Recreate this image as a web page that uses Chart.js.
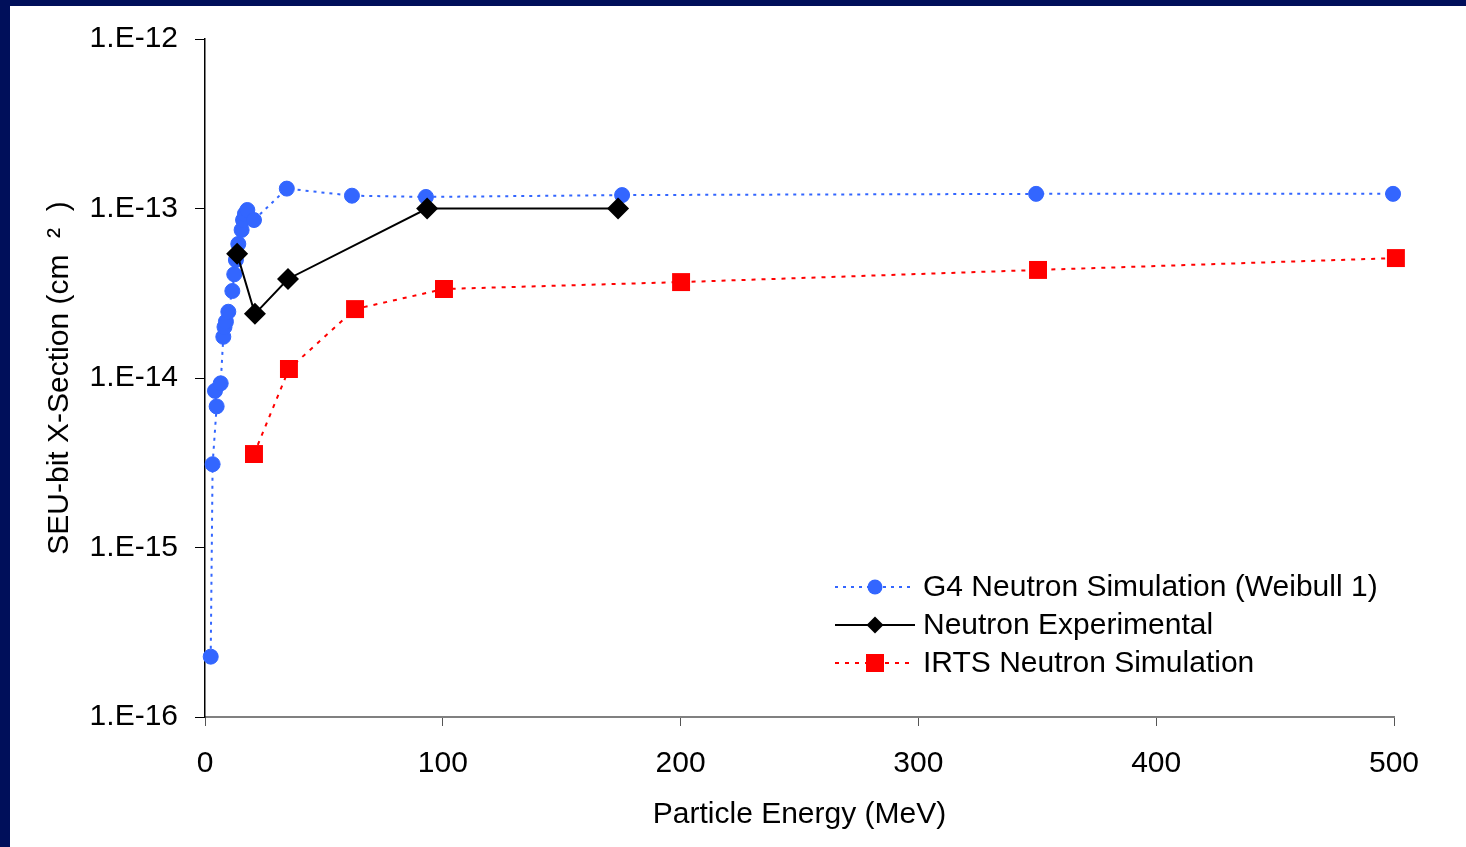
<!DOCTYPE html>
<html lang="en">
<head>
<meta charset="UTF-8">
<title>SEU-bit X-Section vs Particle Energy</title>
<script src="https://cdn.jsdelivr.net/npm/chart.js"></script>
<style>
    html, body { margin: 0; padding: 0; background: #fff; }
    #wrap { position: absolute; left: 0; top: 0; width: 1466px; height: 847px; }
</style>
</head>
<body>
<div id="wrap"><canvas id="seuChart"></canvas></div>
<script>
// G4 Neutron Simulation (Weibull 1)
const g4Energy = [2.4, 3.2, 4.9, 4.2, 6.6, 7.7, 8.2, 8.8, 9.8, 11.5, 12.3, 13.0, 14.0, 15.4, 16.0, 16.8, 17.8, 20.6, 34.4, 61.8, 92.9, 175.4, 349.5, 499.6];
const g4Xsec = [2.27e-16, 3.1e-15, 6.8e-15, 8.4e-15, 9.3e-15, 1.75e-14, 2.0e-14, 2.15e-14, 2.46e-14, 3.26e-14, 4.09e-14, 4.97e-14, 6.18e-14, 7.47e-14, 8.55e-14, 9.3e-14, 9.8e-14, 8.55e-14, 1.31e-13, 1.19e-13, 1.17e-13, 1.2e-13, 1.22e-13, 1.22e-13];

// Neutron Experimental
const expEnergy = [13.5, 21.0, 34.9, 93.4, 173.7];
const expXsec = [5.4e-14, 2.39e-14, 3.84e-14, 1.0e-13, 1.0e-13];

// IRTS Neutron Simulation
const irtsEnergy = [20.6, 35.3, 63.1, 100.5, 200.2, 350.3, 500.8];
const irtsXsec = [3.56e-15, 1.13e-14, 2.55e-14, 3.35e-14, 3.68e-14, 4.34e-14, 5.1e-14];

const yTicks = [1e-16, 1e-15, 1e-14, 1e-13, 1e-12];
const seriesNames = ['G4 Neutron Simulation (Weibull 1)', 'Neutron Experimental', 'IRTS Neutron Simulation'];

const FONT = '"Liberation Sans", Arial, sans-serif';

function toPoints(xs, ys) {
    return xs.map((x, i) => ({ x: x, y: ys[i] }));
}

// navy frame on the top and left edges
const framePlugin = {
    id: 'frame',
    beforeDraw(chart) {
        const ctx = chart.ctx;
        ctx.save();
        ctx.fillStyle = '#fff';
        ctx.fillRect(0, 0, chart.width, chart.height);
        ctx.fillStyle = '#000f5a';
        ctx.fillRect(0, 0, chart.width, 6);
        ctx.fillRect(0, 0, 10, chart.height);
        ctx.restore();
    }
};

// legend drawn inside the plot, lower right
const legendPlugin = {
    id: 'insideLegend',
    afterDraw(chart) {
        const ctx = chart.ctx;
        const rows = [587, 625, 663];
        ctx.save();
        chart.data.datasets.forEach((ds, i) => {
            const y = rows[i];
            ctx.strokeStyle = ds.borderColor;
            ctx.lineWidth = ds.borderWidth;
            ctx.setLineDash(ds.borderDash || []);
            ctx.beginPath();
            ctx.moveTo(835, y);
            ctx.lineTo(915, y);
            ctx.stroke();
            ctx.setLineDash([]);
            ctx.fillStyle = ds.pointBackgroundColor;
            ctx.beginPath();
            if (ds.pointStyle === 'circle') {
                ctx.arc(875, y, 7.5, 0, Math.PI * 2);
            } else if (ds.pointStyle === 'rectRot') {
                ctx.moveTo(875, y - 8.5); ctx.lineTo(883.5, y); ctx.lineTo(875, y + 8.5); ctx.lineTo(866.5, y);
                ctx.closePath();
            } else {
                ctx.rect(866, y - 9, 18, 18);
            }
            ctx.fill();
            ctx.fillStyle = '#000';
            ctx.font = '30px ' + FONT;
            ctx.textAlign = 'left';
            ctx.textBaseline = 'middle';
            ctx.fillText(seriesNames[i], 923, y + 1);
        });
        ctx.restore();
    }
};

const ctx = document.getElementById('seuChart').getContext('2d');
const chart = new Chart(ctx, {
    type: 'scatter',
    data: {
        datasets: [{
            label: seriesNames[0],
            data: toPoints(g4Energy, g4Xsec),
            showLine: true,
            clip: false,
            borderColor: '#3366ff',
            borderWidth: 2,
            borderDash: [3, 5],
            pointStyle: 'circle',
            pointRadius: 7.5,
            pointBorderWidth: 1,
            pointBorderColor: '#3366ff',
            pointBackgroundColor: '#3366ff',
            order: 3
        }, {
            label: seriesNames[1],
            data: toPoints(expEnergy, expXsec),
            showLine: true,
            clip: false,
            borderColor: '#000',
            borderWidth: 2,
            pointStyle: 'rectRot',
            pointRadius: 11,
            pointBorderWidth: 0,
            pointBackgroundColor: '#000',
            order: 1
        }, {
            label: seriesNames[2],
            data: toPoints(irtsEnergy, irtsXsec),
            showLine: true,
            clip: false,
            borderColor: '#ff0000',
            borderWidth: 2,
            borderDash: [4, 6],
            pointStyle: 'rect',
            pointRadius: 12.7,
            pointBorderWidth: 0,
            pointBackgroundColor: '#ff0000',
            order: 2
        }]
    },
    options: {
        responsive: true,
        maintainAspectRatio: false,
        animation: false,
        layout: { padding: { left: 0, top: 39, right: 72, bottom: 0 } },
        plugins: {
            legend: { display: false },
            tooltip: { enabled: false }
        },
        scales: {
            x: {
                type: 'linear',
                min: 0,
                max: 500,
                afterFit(scale) { scale.height = 130; },
                ticks: { stepSize: 100, color: '#000', padding: 20, font: { family: FONT, size: 30 } },
                grid: { display: true, drawOnChartArea: false, drawTicks: true, tickLength: 9, color: '#555' },
                border: { color: '#808080', width: 2 },
                title: {
                    display: true,
                    text: 'Particle Energy (MeV)',
                    color: '#000',
                    font: { family: FONT, size: 30 },
                    padding: { top: 0, bottom: 14 }
                }
            },
            y: {
                type: 'logarithmic',
                min: 1e-16,
                max: 1e-12,
                afterFit(scale) { scale.width = 205; },
                afterBuildTicks(scale) { scale.ticks = yTicks.map(v => ({ value: v, major: true })); },
                ticks: {
                    color: '#000',
                    padding: 17,
                    font: { family: FONT, size: 30 },
                    callback: v => '1.E' + Math.round(Math.log10(v))
                },
                grid: { display: true, drawOnChartArea: false, drawTicks: true, tickLength: 10, color: '#000' },
                border: { color: '#000', width: 1.5 },
                title: {
                    display: true,
                    text: 'SEU-bit X-Section (cm  \u00b2  )',
                    color: '#000',
                    font: { family: FONT, size: 30 },
                    padding: { top: 42, bottom: 0 }
                }
            }
        }
    },
    plugins: [framePlugin, legendPlugin]
});
</script>
</body>
</html>
